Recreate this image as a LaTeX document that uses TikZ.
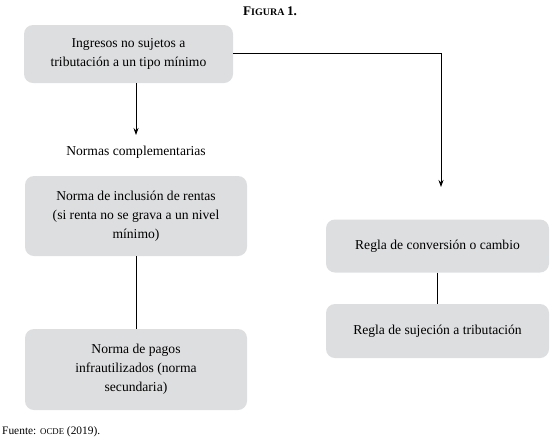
\documentclass[tikz,border=0pt]{standalone}
\usepackage{fontspec}
\setmainfont{Liberation Serif}
\usetikzlibrary{arrows.meta}
\definecolor{boxgray}{RGB}{221,222,224}
\tikzset{
  graybox/.style={fill=boxgray, draw=none, rounded corners=9pt, align=center,
    font=\fontsize{13.6}{19}\selectfont, inner sep=0pt},
  conn/.style={draw=black, line width=0.8pt},
  arr/.style={conn, -{Stealth[length=7pt,width=5pt]}}
}
\begin{document}
\begin{tikzpicture}[x=1pt,y=-1pt]
\useasboundingbox (0,0) rectangle (553,440);
% title
\node (title) at (270,11) {\bfseries{\fontsize{13.2}{13}\selectfont F}{\fontsize{10}{10}\selectfont IGURA} {\fontsize{13.2}{13}\selectfont 1.}};
% boxes
\node[graybox, minimum width=209pt, minimum height=58pt] (b1) at (128.5,54) {Ingresos no sujetos a\\tributación a un tipo mínimo};
\node (nc) at (136,152) {\fontsize{13.6}{16}\selectfont Normas complementarias};
\node[graybox, minimum width=222pt, minimum height=80pt] (b2) at (136,216) {Norma de inclusión de rentas\\(si renta no se grava a un nivel\\mínimo)};
\node[graybox, minimum width=222pt, minimum height=81pt] (b3) at (136,369.5) {Norma de pagos\\infrautilizados (norma\\secundaria)};
\node[graybox, minimum width=223pt, minimum height=53pt] (b4) at (437.5,246) {Regla de conversión o cambio};
\node[graybox, minimum width=223pt, minimum height=54pt] (b5) at (437.5,331) {Regla de sujeción a tributación};
% source
\node[anchor=base west, inner sep=0pt] (src) at (2,434) {\fontsize{11.4}{13}\selectfont Fuente: {\fontsize{8.8}{9}\selectfont OCDE} (2019).};
% connectors
\coordinate (t1) at (136,135);
\coordinate (corner) at (441,53);
\coordinate (t2) at (441,187);
\draw[arr] (b1.south -| t1) -- (t1);
\draw[conn] (b2.south) -- (b3.north);
\draw[arr] (b1.east |- corner) -- (corner) -- (t2);
\draw[conn] (b4.south) -- (b5.north);
\end{tikzpicture}
\end{document}
